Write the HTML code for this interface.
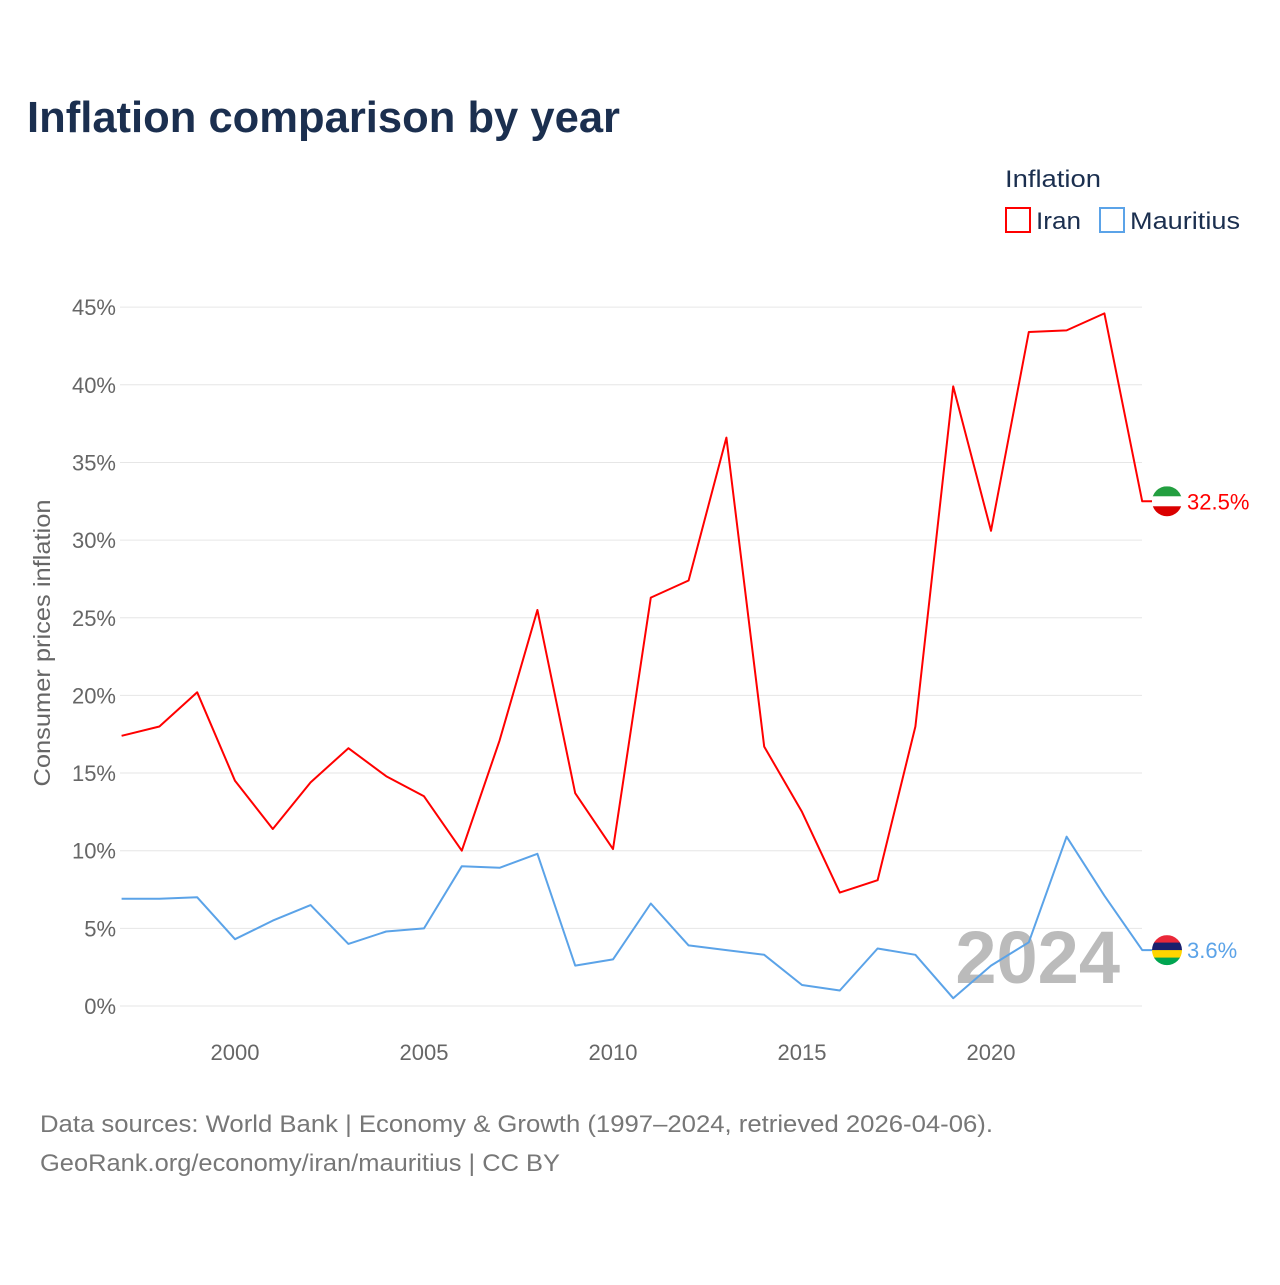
<!DOCTYPE html>
<html><head><meta charset="utf-8">
<style>
html,body{margin:0;padding:0;background:#fff;}
body{width:1280px;height:1280px;overflow:hidden;font-family:"Liberation Sans",sans-serif;}
</style></head>
<body>
<svg id="chart" width="1280" height="1280" xmlns="http://www.w3.org/2000/svg">
<text x="27" y="132" font-size="44" font-weight="bold" fill="#1b2f4f" textLength="593" lengthAdjust="spacingAndGlyphs">Inflation comparison by year</text>
<text x="1005" y="187" font-size="24" fill="#1b2f4f" textLength="96" lengthAdjust="spacingAndGlyphs">Inflation</text>
<g><rect x="1006" y="208" width="24" height="24" fill="none" stroke="#ff0000" stroke-width="2"/><text x="1036" y="229" font-size="24" fill="#1b2f4f" textLength="45" lengthAdjust="spacingAndGlyphs">Iran</text></g>
<g><rect x="1100" y="208" width="24" height="24" fill="none" stroke="#5ba3e8" stroke-width="2"/><text x="1130" y="229" font-size="24" fill="#1b2f4f" textLength="110" lengthAdjust="spacingAndGlyphs">Mauritius</text></g>
<text transform="translate(50,643) rotate(-90)" text-anchor="middle" font-size="23" fill="#666" textLength="287" lengthAdjust="spacingAndGlyphs">Consumer prices inflation</text>
<g id="grid"></g><g id="ticks"></g>
<text x="1120" y="983" text-anchor="end" font-size="74" font-weight="bold" fill="#bbb">2024</text>
<g id="series"></g>
<text x="40" y="1132" font-size="24" fill="#777" textLength="953" lengthAdjust="spacingAndGlyphs">Data sources: World Bank | Economy &amp; Growth (1997–2024, retrieved 2026-04-06).</text>
<text x="40" y="1171" font-size="24" fill="#777" textLength="520" lengthAdjust="spacingAndGlyphs">GeoRank.org/economy/iran/mauritius | CC BY</text>
</svg>
<script>
const years=[1997,1998,1999,2000,2001,2002,2003,2004,2005,2006,2007,2008,2009,2010,2011,2012,2013,2014,2015,2016,2017,2018,2019,2020,2021,2022,2023,2024];
const iran=[17.4,18.0,20.2,14.5,11.4,14.4,16.6,14.8,13.5,10.0,17.1,25.5,13.7,10.1,26.3,27.4,36.6,16.7,12.5,7.3,8.1,18.0,39.9,30.6,43.4,43.5,44.6,32.5];
const mauritius=[6.9,6.9,7.0,4.3,5.5,6.5,4.0,4.8,5.0,9.0,8.9,9.8,2.6,3.0,6.6,3.9,3.6,3.3,1.35,1.0,3.7,3.3,0.5,2.6,4.1,10.9,7.1,3.6];
const yTicks=[0,5,10,15,20,25,30,35,40,45];
const xTicks=[2000,2005,2010,2015,2020];
const NS="http://www.w3.org/2000/svg";
const X=y=>121.6+(y-1997)*37.8;
const Y=v=>1006-v*15.53;
function mk(t,a,p){const e=document.createElementNS(NS,t);for(const k in a)e.setAttribute(k,a[k]);p.appendChild(e);return e;}
const grid=document.getElementById('grid'),ticks=document.getElementById('ticks'),series=document.getElementById('series');
yTicks.forEach(v=>{
 const l=mk('line',{x1:120,x2:1142,y1:Y(v),y2:Y(v),stroke:'#e6e6e6','stroke-width':1},grid);
 
 
 const t=mk('text',{x:116,y:Y(v)+8,'text-anchor':'end','font-size':22,fill:'#666'},ticks);
 t.textContent=v+'%';
 
 
});
xTicks.forEach(v=>{
 const t=mk('text',{x:X(v),y:1060,'text-anchor':'middle','font-size':22,fill:'#666'},ticks);
 t.textContent=v;
 
 
});
function draw(data,color,name,flag){
 const last=data[data.length-1];
 let d=data.map((v,i)=>(i?'L':'M')+X(years[i]).toFixed(1)+','+Y(v).toFixed(1)).join(' ');
 d+=' L'+(X(2024)+10)+','+Y(last).toFixed(1);
 const p=mk('path',{d:d,fill:'none',stroke:color,'stroke-width':2,'stroke-linejoin':'round'},series);
 
 
 const cy=Y(last),cx=1167;
 const g=mk('g',{},series);
 
 
 const h=30/flag.length;
 const cp=mk('clipPath',{id:'c'+name},g);
 mk('circle',{cx:cx,cy:cy,r:15},cp);
 flag.forEach((c,i)=>mk('rect',{x:cx-15,y:cy-15+i*h,width:30,height:h+0.5,fill:c,'clip-path':'url(#c'+name+')'},g));
 const t=mk('text',{x:1187,y:cy+8,'font-size':22,fill:color},series);
 t.textContent=last+'%';
 
 
}
draw(iran,'#ff0000','iran',['#239f40','#ffffff','#da0000']);
draw(mauritius,'#5ba3e8','mauritius',['#ea2839','#1a206d','#ffd500','#00a551']);
</script>
</body></html>
